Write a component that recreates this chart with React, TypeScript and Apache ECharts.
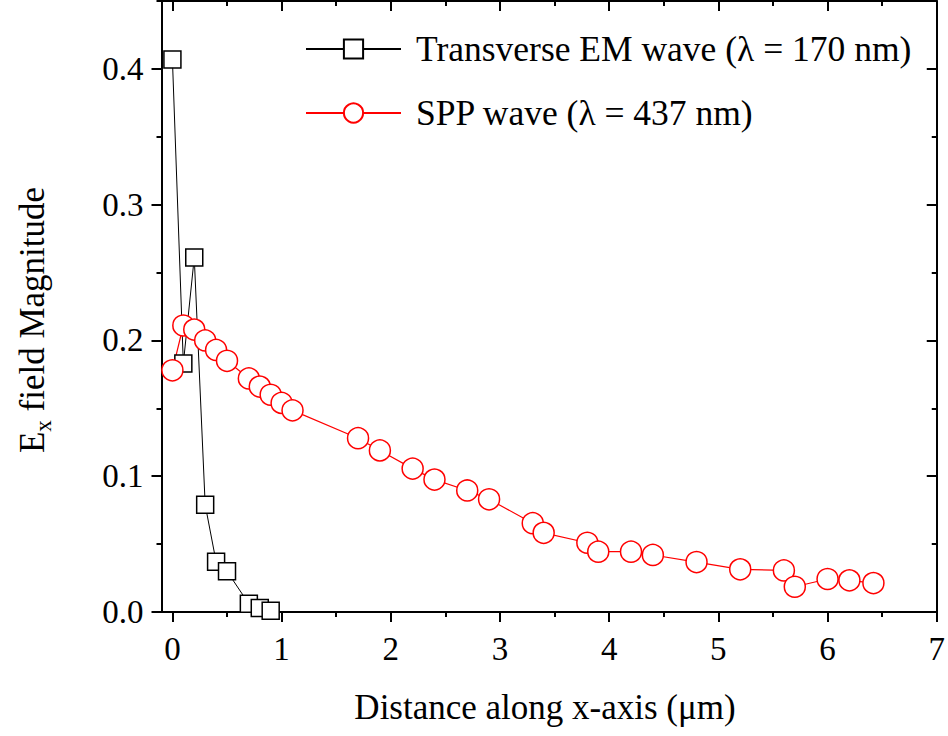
import React, { useEffect, useRef } from "react";
import * as echarts from "echarts";

const temX = [0, 0.1, 0.2, 0.3, 0.4, 0.5, 0.7, 0.8, 0.9];
const temY = [0.407, 0.183, 0.261, 0.079, 0.037, 0.03, 0.006, 0.003, 0.001];

const sppX = [0, 0.1, 0.2, 0.3, 0.4, 0.5, 0.7, 0.8, 0.9, 1.0, 1.1, 1.7, 1.9, 2.2, 2.4, 2.7, 2.9, 3.3, 3.4, 3.8, 3.9, 4.2, 4.4, 4.8, 5.2, 5.6, 5.7, 6.0, 6.2, 6.42];
const sppY = [0.178, 0.211, 0.208, 0.2, 0.193, 0.185, 0.172, 0.166, 0.16, 0.154, 0.1485, 0.128, 0.119, 0.1056, 0.0975, 0.0895, 0.083, 0.0654, 0.0583, 0.051, 0.0444, 0.0444, 0.042, 0.0368, 0.0314, 0.0306, 0.0186, 0.0243, 0.0233, 0.0213];

const xMajor = [0, 1, 2, 3, 4, 5, 6, 7];
const xMinor = [0.5, 1.5, 2.5, 3.5, 4.5, 5.5, 6.5];
const yMajor = [0, 0.1, 0.2, 0.3, 0.4];
const yMinor = [0.05, 0.15, 0.25, 0.35, 0.45];

const seriesNames = ["Transverse EM wave (λ = 170 nm)", "SPP wave (λ = 437 nm)"];
const xTitle = "Distance along x-axis (μm)";

const FONT = "Liberation Serif";

function xAx(position: string, ticks: number[], len: number, inside: boolean, showLine: boolean, showLabel: boolean) {
  return {
    type: "value",
    min: -0.1,
    max: 7,
    position,
    axisLine: { show: showLine, onZero: false, lineStyle: { color: "#000", width: 2 } },
    axisTick: { show: true, customValues: ticks, length: len, inside, lineStyle: { color: "#000", width: 2 } },
    axisLabel: {
      show: showLabel,
      customValues: ticks,
      margin: 20,
      color: "#000",
      fontFamily: FONT,
      fontSize: 33,
      formatter: (v: number) => String(v),
    },
    splitLine: { show: false },
  };
}

function yAx(position: string, ticks: number[], len: number, inside: boolean, showLine: boolean, showLabel: boolean) {
  return {
    type: "value",
    min: 0,
    max: 0.45,
    position,
    axisLine: { show: showLine, onZero: false, lineStyle: { color: "#000", width: 2 } },
    axisTick: { show: true, customValues: ticks, length: len, inside, lineStyle: { color: "#000", width: 2 } },
    axisLabel: {
      show: showLabel,
      customValues: ticks,
      margin: 18,
      color: "#000",
      fontFamily: FONT,
      fontSize: 33,
      formatter: (v: number) => v.toFixed(1),
    },
    splitLine: { show: false },
  };
}

export default function App() {
  const ref = useRef<HTMLDivElement>(null);
  useEffect(() => {
    if (!ref.current) return;
    const chart = echarts.init(ref.current, null, { renderer: "svg" });
    const option: any = {
      animation: false,
      backgroundColor: "#fff",
      textStyle: { fontFamily: FONT },
      grid: { left: 161.5, right: 8, top: 1, bottom: 124 },
      xAxis: [
        xAx("bottom", xMajor, 10, false, true, true),
        xAx("bottom", xMinor, 5, false, false, false),
        xAx("top", xMajor, 10, true, true, false),
        xAx("top", xMinor, 5, true, false, false),
      ],
      yAxis: [
        yAx("left", yMajor, 10, false, true, true),
        yAx("left", yMinor, 5, false, false, false),
        yAx("right", yMajor, 10, true, true, false),
        yAx("right", yMinor, 5, true, false, false),
      ],
      legend: {
        orient: "vertical",
        left: 300,
        top: 26,
        itemWidth: 95,
        itemHeight: 24,
        itemGap: 28,
        textStyle: { fontSize: 35.5, fontFamily: FONT, color: "#000", padding: [0, 0, 0, 10] },
        data: seriesNames,
      },
      graphic: [
        {
          type: "text",
          x: 545,
          y: 707,
          style: {
            text: xTitle,
            fill: "#000",
            fontSize: 35,
            fontFamily: FONT,
            align: "center",
            verticalAlign: "middle",
          },
        },
        {
          type: "text",
          x: 32,
          y: 320,
          rotation: Math.PI / 2,
          style: {
            text: "{m|E}{s|x}{m| field Magnitude}",
            fill: "#000",
            fontFamily: FONT,
            align: "center",
            verticalAlign: "middle",
            rich: {
              m: { fontSize: 35, fontFamily: FONT, lineHeight: 35, verticalAlign: "top", fill: "#000" },
              s: { fontSize: 23, fontFamily: FONT, lineHeight: 23, verticalAlign: "top", padding: [17, 0, 0, 0], fill: "#000" },
            },
          },
        },
      ],
      series: [
        {
          name: seriesNames[0],
          type: "line",
          xAxisIndex: 0,
          yAxisIndex: 0,
          data: temX.map((x, i) => [x, temY[i]]),
          symbol: "rect",
          symbolSize: 17,
          lineStyle: { color: "#000", width: 1 },
          itemStyle: { color: "#fff", borderColor: "#000", borderWidth: 1.5 },
          emphasis: { disabled: true },
        },
        {
          name: seriesNames[1],
          type: "line",
          xAxisIndex: 0,
          yAxisIndex: 0,
          data: sppX.map((x, i) => [x, sppY[i]]),
          symbol: "circle",
          symbolSize: 21,
          lineStyle: { color: "#ff0000", width: 1.2 },
          itemStyle: { color: "#fff", borderColor: "#ff0000", borderWidth: 1.5 },
          emphasis: { disabled: true },
        },
      ],
    };
    chart.setOption(option);
    return () => chart.dispose();
  }, []);
  return <div ref={ref} style={{ position: "fixed", left: 0, top: 0, width: 948, height: 736 }} />;
}
